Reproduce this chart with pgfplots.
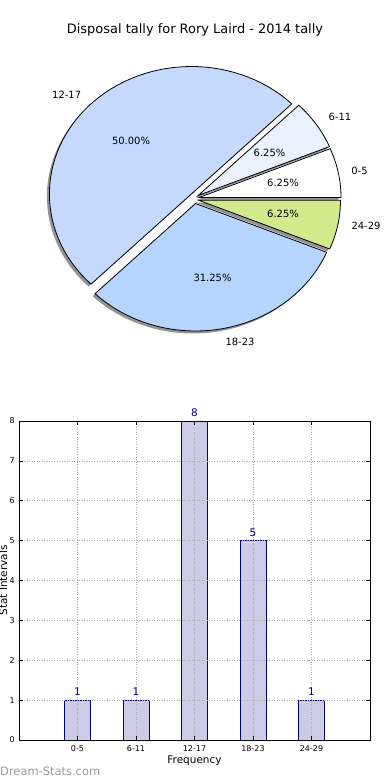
\documentclass[border=0pt]{standalone}
\usepackage{pgfplots}
\pgfplotsset{compat=1.18}
\usepackage{fontspec}
\setmainfont{DejaVu Sans}
\definecolor{cA}{RGB}{255,255,255}   % 0-5
\definecolor{cB}{RGB}{234,241,255}   % 6-11
\definecolor{cC}{RGB}{197,217,255}   % 12-17
\definecolor{cD}{RGB}{181,213,255}   % 18-23
\definecolor{cE}{RGB}{208,234,140}   % 24-29
\definecolor{barfill}{RGB}{204,204,230}
\definecolor{navyc}{RGB}{0,0,128}
% pie values (counts): 0-5:1, 6-11:1, 12-17:8, 18-23:5, 24-29:1 ; total 16
\pgfmathsetmacro{\vA}{1}\pgfmathsetmacro{\vB}{1}\pgfmathsetmacro{\vC}{8}\pgfmathsetmacro{\vD}{5}\pgfmathsetmacro{\vE}{1}
\pgfmathsetmacro{\tot}{\vA+\vB+\vC+\vD+\vE}
\pgfmathsetmacro{\aA}{0}
\pgfmathsetmacro{\aB}{\aA+360*\vA/\tot}
\pgfmathsetmacro{\aC}{\aB+360*\vB/\tot}
\pgfmathsetmacro{\aD}{\aC+360*\vC/\tot}
\pgfmathsetmacro{\aE}{\aD+360*\vD/\tot}
\pgfmathsetmacro{\aF}{\aE+360*\vE/\tot}
% wedge: cx cy start end colour
\newcommand{\pieshadow}[4]{%
  \addplot[draw=none, fill=black, fill opacity=0.42, domain=#3:#4, samples=60, variable=\t]
    ({#1+142*cos(\t)},{#2+127.5*sin(\t)}) -- (#1,#2) -- cycle;}
\newcommand{\piewedge}[5]{%
  \addplot[draw=black, line width=0.8bp, fill=#5, domain=#3:#4, samples=60, variable=\t, line join=miter]
    ({#1+142*cos(\t)},{#2+127.5*sin(\t)}) -- (#1,#2) -- cycle;}
\begin{document}
\begin{tikzpicture}
\useasboundingbox (0,0) rectangle (390bp,780bp);
\begin{axis}[at={(0,390bp)}, anchor=south west, width=390bp, height=390bp, scale only axis,
  xmin=0, xmax=390, ymin=0, ymax=390, hide axis, clip=false]
  % shadows (offset down-left)
  \pieshadow{196.5}{190}{\aA}{\aB}
  \pieshadow{195.8}{192.1}{\aB}{\aC}
  \pieshadow{188.9}{193.5}{\aC}{\aD}
  \pieshadow{193}{184}{\aD}{\aE}
  \pieshadow{196}{187.3}{\aE}{\aF}
  % wedges
  \piewedge{199}{192.5}{\aA}{\aB}{cA}
  \piewedge{198.3}{194.6}{\aB}{\aC}{cB}
  \piewedge{191.4}{196}{\aC}{\aD}{cC}
  \piewedge{195.5}{186.5}{\aD}{\aE}{cD}
  \piewedge{198.5}{189.8}{\aE}{\aF}{cE}
  % labels
  \begin{scope}[every node/.style={inner sep=0pt, font=\fontsize{10}{12}\selectfont}]
  \node at (axis cs:66.7,295) {12-17};
  \node at (axis cs:340,272.7) {6-11};
  \node at (axis cs:359.5,219) {0-5};
  \node at (axis cs:366,164) {24-29};
  \node at (axis cs:240,48.3) {18-23};
  \node at (axis cs:131,249.3) {50.00\%};
  \node at (axis cs:269.5,236.7) {6.25\%};
  \node at (axis cs:283,207.3) {6.25\%};
  \node at (axis cs:283,175.7) {6.25\%};
  \node at (axis cs:212.5,111.7) {31.25\%};
  \node at (axis cs:195,360) {\fontsize{13}{15}\selectfont Disposal tally for Rory Laird - 2014 tally};
  \end{scope}
\end{axis}
\begin{axis}[at={(19bp,40bp)}, anchor=south west, width=351bp, height=319bp, scale only axis,
  ybar, bar width=26bp, clip=false,
  xmin=-1, xmax=5, ymin=0, ymax=8,
  xtick={0,1,2,3,4}, xticklabels={0-5,6-11,12-17,18-23,24-29},
  ytick={0,1,2,3,4,5,6,7,8},
  /pgf/number format/assume math mode=true,
  tick pos=both, xticklabel pos=lower, yticklabel pos=left,
  tick align=inside, major tick length=4bp,
  tick style={black, line width=0.6bp},
  axis line style={black, line width=0.9bp},
  grid=major, major grid style={gray!70, line width=0.6bp, dash pattern=on 1bp off 1.5bp},
  axis on top,
  xticklabel style={font=\fontsize{8}{9}\selectfont, anchor=base, inner sep=0pt, yshift=-11bp},
  yticklabel style={font=\fontsize{8}{9}\selectfont, anchor=east, inner sep=0pt, xshift=-4bp},
  xlabel={Frequency}, ylabel={Stat Intervals},
  xlabel style={font=\fontsize{10.5}{12}\selectfont, at={(axis description cs:0.5,0)}, anchor=base, inner sep=0pt, yshift=-23.3bp},
  ylabel style={font=\fontsize{10.5}{12}\selectfont, at={(axis description cs:-0.034,0.5)}, anchor=base, inner sep=0pt},
  nodes near coords,
  every node near coord/.append style={font=\fontsize{10.5}{12}\selectfont, text=navyc, anchor=south, inner sep=0pt, yshift=4bp},
]
\addplot[fill=barfill, draw=navyc, line width=0.9bp] coordinates {(0,1) (1,1) (2,8) (3,5) (4,1)};
\end{axis}
\node[anchor=base west, inner sep=0pt, text=black!40] at (0,4.5bp) {\fontsize{11.5}{13}\selectfont Dream-Stats.com};
\end{tikzpicture}
\end{document}
